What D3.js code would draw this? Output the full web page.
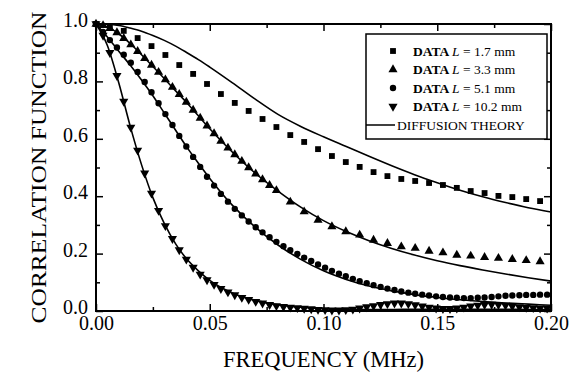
<!DOCTYPE html>
<html>
<head>
<meta charset="utf-8">
<script src="https://cdn.jsdelivr.net/npm/d3@7"></script>
<style>
  body { margin: 0; background: #fff; }
  svg { display: block; }
  svg text { font-family: 'Liberation Serif', 'Times New Roman', Times, serif; }
</style>
</head>
<body>
<svg id="chart" width="580" height="381"></svg>
<script>
// measurement grid (MHz), every 3.05 kHz
const freqFine = [0, .0031, .0061, .0092, .0122, .0153, .0183, .0214, .0244, .0275, .0305, .0336, .0366, .0397, .0427, .0458,
  .0488, .0519, .0549, .058, .061, .0641, .0671, .0702, .0732, .0763, .0793, .0824, .0854, .0885, .0915, .0946, .0976,
  .1007, .1037, .1068, .1098, .1129, .1159, .119, .122, .1251, .1281, .1312, .1342, .1373, .1403, .1434, .1464, .1495,
  .1525, .1556, .1586, .1617, .1647, .1678, .1708, .1739, .1769, .18, .183, .1861, .1891, .1922, .1952, .1983];
const freqCoarse = freqFine.filter((f, i) => i % 2 === 0);
const freqTri = freqFine.filter((f, i) => i <= 26 || i % 2 === 0);

// L = 1.7 mm (squares)
const dataL17 = [1.0, 0.99, 0.976, 0.951, 0.923, 0.892, 0.857, 0.826, 0.791, 0.756, 0.725, 0.697, 0.669, 0.641, 0.613,
  0.589, 0.564, 0.540, 0.519, 0.502, 0.484, 0.470, 0.460, 0.453, 0.446, 0.439, 0.429, 0.418, 0.411, 0.401, 0.397, 0.390, 0.383];
// L = 3.3 mm (triangles)
const dataL33 = [1.0, 0.995, 0.985, 0.97, 0.95, 0.928, 0.905, 0.88, 0.857, 0.832, 0.806, 0.78, 0.755, 0.728, 0.70, 0.672,
  0.645, 0.618, 0.592, 0.568, 0.545, 0.522, 0.50, 0.478, 0.458, 0.438, 0.42,
  0.38, 0.346, 0.317, 0.294, 0.277, 0.265, 0.247, 0.236, 0.224, 0.219, 0.209, 0.203, 0.195, 0.192, 0.187, 0.184, 0.180, 0.176, 0.172];
// L = 5.1 mm (circles)
const dataL51 = [1.0, 0.972, 0.944, 0.918, 0.893, 0.865, 0.833, 0.798, 0.762, 0.724, 0.686, 0.648, 0.61, 0.573, 0.537, 0.502,
  0.468, 0.437, 0.408, 0.381, 0.356, 0.333, 0.312, 0.292, 0.274, 0.257, 0.241, 0.226, 0.212, 0.199, 0.186, 0.174, 0.162,
  0.151, 0.14, 0.13, 0.121, 0.112, 0.104, 0.097, 0.09, 0.084, 0.078, 0.073, 0.068, 0.064, 0.06, 0.057, 0.054, 0.051, 0.049,
  0.047, 0.046, 0.045, 0.045, 0.046, 0.047, 0.049, 0.051, 0.053, 0.054, 0.055, 0.056, 0.056, 0.057, 0.057];
// L = 10.2 mm (inverted triangles)
const dataL102 = [1.0, 0.96, 0.9, 0.82, 0.73, 0.64, 0.56, 0.48, 0.41, 0.35, 0.297, 0.252, 0.213, 0.18, 0.152, 0.128, 0.108,
  0.092, 0.078, 0.066, 0.056, 0.047, 0.04, 0.033, 0.027, 0.022, 0.018, 0.015, 0.013, 0.011, 0.009, 0.007, 0.005, 0.004,
  0.003, 0.003, 0.004, 0.006, 0.01, 0.014, 0.018, 0.022, 0.025, 0.027, 0.027, 0.025, 0.021, 0.017, 0.013, 0.01, 0.008,
  0.008, 0.01, 0.013, 0.017, 0.02, 0.022, 0.023, 0.022, 0.02, 0.017, 0.014, 0.012, 0.011, 0.01, 0.01];

// diffusion theory
const theoryFreq = [0, .005, .01, .015, .02, .025, .03, .035, .04, .045, .05, .06, .07, .08, .09, .1, .11, .12, .13, .14, .15, .16, .17, .18, .19, .2];
const theoryL17 = [1, 0.999, 0.995, 0.986, 0.975, 0.96, 0.943, 0.923, 0.9, 0.876, 0.85, 0.795, 0.738, 0.685, 0.643, 0.607,
  0.573, 0.539, 0.506, 0.475, 0.447, 0.421, 0.398, 0.378, 0.36, 0.345];
const theoryL33 = [1, 0.99, 0.966, 0.932, 0.893, 0.852, 0.81, 0.767, 0.725, 0.68, 0.635, 0.553, 0.48, 0.418, 0.362, 0.315,
  0.277, 0.245, 0.218, 0.195, 0.175, 0.158, 0.143, 0.129, 0.116, 0.104];
const theoryL51 = [1, 0.955, 0.905, 0.857, 0.805, 0.75, 0.69, 0.63, 0.57, 0.515, 0.462, 0.368, 0.292, 0.23, 0.18, 0.14,
  0.11, 0.087, 0.07, 0.057, 0.047, 0.039, 0.033, 0.028, 0.024, 0.02];
const theoryL102 = [1, 0.925, 0.795, 0.645, 0.51, 0.395, 0.305, 0.234, 0.18, 0.14, 0.107, 0.063, 0.037, 0.022, 0.013, 0.008,
  0.006, 0.005, 0.005, 0.006, 0.006, 0.006, 0.006, 0.006, 0.005, 0.005];

const xMajor = [0, 0.05, 0.1, 0.15, 0.2];
const xMinor = [0.025, 0.075, 0.125, 0.175];
const yMajor = [0, 0.2, 0.4, 0.6, 0.8, 1.0];
const yMinor = [0.1, 0.3, 0.5, 0.7, 0.9];
const legendLabels = ['1.7 mm', '3.3 mm', '5.1 mm', '10.2 mm'];

const width = 580, height = 381;
const margin = { top: 24, right: 29, bottom: 70, left: 96 };
const svg = d3.select('#chart');

const x = d3.scaleLinear().domain([0, 0.2]).range([margin.left, width - margin.right]);
const y = d3.scaleLinear().domain([0, 1]).range([height - margin.bottom, margin.top]);

// axes: ticks point inward on all four sides
function drawAxis(axis, tx, ty) {
  const g = svg.append('g').attr('transform', `translate(${tx},${ty})`).call(axis);
  g.attr('font-family', null).attr('font-size', 20);
  g.select('.domain').remove();
  g.selectAll('.tick line').attr('stroke', '#000').attr('stroke-width', 1.5);
  g.selectAll('text').attr('fill', '#000');
  return g;
}
const noLabel = () => '';
drawAxis(d3.axisBottom(x).tickValues(xMajor).tickSize(-7).tickPadding(5).tickFormat(d3.format('.2f')), 0, y(0));
drawAxis(d3.axisBottom(x).tickValues(xMinor).tickSize(-4).tickFormat(noLabel), 0, y(0));
drawAxis(d3.axisTop(x).tickValues(xMajor).tickSize(-7).tickFormat(noLabel), 0, y(1));
drawAxis(d3.axisTop(x).tickValues(xMinor).tickSize(-4).tickFormat(noLabel), 0, y(1));
drawAxis(d3.axisLeft(y).tickValues(yMajor).tickSize(-7).tickPadding(8).tickFormat(d3.format('.1f')), x(0), 0)
  .selectAll('text').attr('y', -4);
drawAxis(d3.axisLeft(y).tickValues(yMinor).tickSize(-4).tickFormat(noLabel), x(0), 0);
drawAxis(d3.axisRight(y).tickValues(yMajor).tickSize(-7).tickFormat(noLabel), x(0.2), 0);
drawAxis(d3.axisRight(y).tickValues(yMinor).tickSize(-4).tickFormat(noLabel), x(0.2), 0);

// frame
svg.append('rect')
  .attr('x', x(0)).attr('y', y(1))
  .attr('width', x(0.2) - x(0)).attr('height', y(0) - y(1))
  .attr('fill', 'none').attr('stroke', '#000').attr('stroke-width', 2);

// theory curves
const line = d3.line().x(d => x(d[0])).y(d => y(d[1])).curve(d3.curveMonotoneX);
[theoryL17, theoryL33, theoryL51, theoryL102].forEach(vals => {
  svg.append('path')
    .datum(theoryFreq.map((f, i) => [f, vals[i]]))
    .attr('d', line)
    .attr('fill', 'none').attr('stroke', '#000').attr('stroke-width', 1.6);
});

// data markers
const series = [
  { freq: freqCoarse, vals: dataL17, type: d3.symbolSquare, size: 34, rot: 0 },
  { freq: freqTri, vals: dataL33, type: d3.symbolTriangle, size: 36, rot: 0 },
  { freq: freqFine, vals: dataL51, type: d3.symbolCircle, size: 32, rot: 0 },
  { freq: freqFine, vals: dataL102, type: d3.symbolTriangle, size: 36, rot: 180 }
];
series.forEach(s => {
  const sym = d3.symbol().type(s.type).size(s.size);
  svg.append('g').selectAll('path')
    .data(s.freq.map((f, i) => [f, s.vals[i]]))
    .join('path')
    .attr('d', sym)
    .attr('fill', '#000')
    .attr('transform', d => `translate(${x(d[0])},${y(d[1])}) rotate(${s.rot})`);
});

// legend
const leg = svg.append('g');
leg.append('rect')
  .attr('x', 366).attr('y', 34).attr('width', 181).attr('height', 105)
  .attr('fill', '#fff').attr('stroke', '#000').attr('stroke-width', 1.5);
const rowY = i => 51 + i * 18.5;
series.forEach((s, i) => {
  leg.append('path')
    .attr('d', d3.symbol().type(s.type).size(s.size)())
    .attr('fill', '#000')
    .attr('transform', `translate(393,${rowY(i)}) rotate(${s.rot})`);
  const t = leg.append('text').attr('x', 413).attr('y', rowY(i)).attr('dy', '0.35em').style('font-size', '13.5px');
  t.append('tspan').attr('font-weight', 'bold').text('DATA');
  t.append('tspan').attr('x', 452).attr('font-style', 'italic').text('L');
  t.append('tspan').text(' = ' + legendLabels[i]);
});
leg.append('line')
  .attr('x1', 366).attr('x2', 395).attr('y1', rowY(4)).attr('y2', rowY(4))
  .attr('stroke', '#000').attr('stroke-width', 1.5);
leg.append('text').attr('x', 397).attr('y', rowY(4)).attr('dy', '0.35em')
  .style('font-size', '13.5px').text('DIFFUSION THEORY');

// axis titles
svg.append('text')
  .attr('x', (x(0) + x(0.2)) / 2).attr('y', 367)
  .attr('text-anchor', 'middle').style('font-size', '22.5px')
  .text('FREQUENCY (MHz)');
svg.append('text')
  .attr('transform', `translate(46,${(y(0) + y(1)) / 2}) rotate(-90)`)
  .attr('text-anchor', 'middle').style('font-size', '22px')
  .attr('textLength', 312).attr('lengthAdjust', 'spacingAndGlyphs')
  .text('CORRELATION FUNCTION');
</script>
</body>
</html>
